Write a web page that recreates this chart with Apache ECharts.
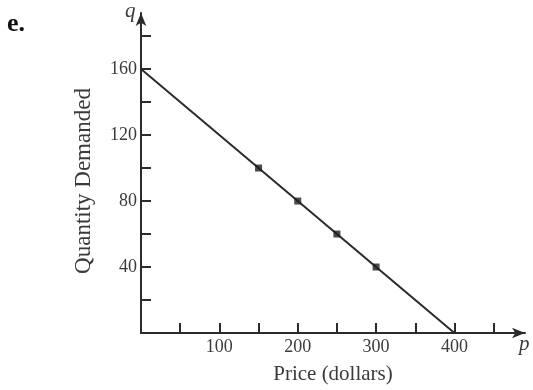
<!DOCTYPE html>
<html>
<head>
<meta charset="utf-8">
<script src="https://cdn.jsdelivr.net/npm/echarts@6/dist/echarts.min.js"></script>
<style>
  html, body { margin: 0; padding: 0; background: #fff; }
  #chart { width: 533px; height: 390px; }
</style>
</head>
<body>
<div id="chart"></div>
<script>
// Demand line: points that define it (price in dollars, quantity demanded)
const linePrice = [0, 150, 200, 250, 300, 400];
const lineQuantity = [160, 100, 80, 60, 40, 0];

// Points plotted with square markers
const markedPrice = [150, 200, 250, 300];
const markedQuantity = [100, 80, 60, 40];

// Axis ticks and labels
const xTicks = [50, 100, 150, 200, 250, 300, 350, 400, 450];
const xLabels = [100, 200, 300, 400];
const yTicks = [20, 40, 60, 80, 100, 120, 140, 160, 180];
const yLabels = [40, 80, 120, 160];

const ink = '#2b2b2b';
const textInk = '#3a3a3a';
const serif = '"Liberation Serif", "DejaVu Serif", serif';

const chart = echarts.init(document.getElementById('chart'), null, { renderer: 'canvas' });

const axisCommon = {
  type: 'value',
  nameLocation: 'middle',
  splitLine: { show: false },
  axisLine: {
    show: true,
    symbol: ['none', 'arrow'],
    symbolSize: [8, 13],
    lineStyle: { color: ink, width: 2 }
  },
  axisTick: { show: true, inside: true, length: 10, lineStyle: { color: ink, width: 2 } }
};

chart.setOption({
  backgroundColor: '#ffffff',
  animation: false,
  grid: { left: 141, right: 8, top: 13, bottom: 57 },
  xAxis: Object.assign({}, axisCommon, {
    min: 0,
    max: 490,
    name: 'Price (dollars)',
    nameGap: 31,
    nameTextStyle: { fontFamily: serif, fontSize: 21, color: textInk },
    axisTick: Object.assign({}, axisCommon.axisTick, { customValues: xTicks }),
    axisLabel: { customValues: xLabels, margin: 5, fontFamily: serif, fontSize: 18, color: textInk }
  }),
  yAxis: Object.assign({}, axisCommon, {
    min: 0,
    max: 194,
    name: 'Quantity Demanded',
    nameGap: 46,
    nameTextStyle: { fontFamily: serif, fontSize: 23, color: textInk, padding: [0, 16, 0, 0] },
    axisTick: Object.assign({}, axisCommon.axisTick, { customValues: yTicks }),
    axisLabel: { customValues: yLabels, margin: 4, fontFamily: serif, fontSize: 18, color: textInk }
  }),
  series: [
    {
      type: 'line',
      data: linePrice.map((p, i) => [p, lineQuantity[i]]),
      symbol: 'none',
      lineStyle: { color: ink, width: 2 },
      z: 3
    },
    {
      type: 'scatter',
      data: markedPrice.map((p, i) => [p, markedQuantity[i]]),
      symbol: 'rect',
      symbolSize: 7,
      itemStyle: { color: '#1e1e1e' },
      z: 4
    }
  ],
  graphic: [
    {
      type: 'text', left: 7, top: 11,
      style: { text: 'e.', font: 'bold 26px ' + serif, fill: '#111' }
    },
    {
      type: 'text', left: 125, top: 1,
      style: { text: 'q', font: 'italic 21px ' + serif, fill: textInk }
    },
    {
      type: 'text', left: 519, top: 334,
      style: { text: 'p', font: 'italic 21px ' + serif, fill: textInk }
    }
  ]
});
</script>
</body>
</html>
